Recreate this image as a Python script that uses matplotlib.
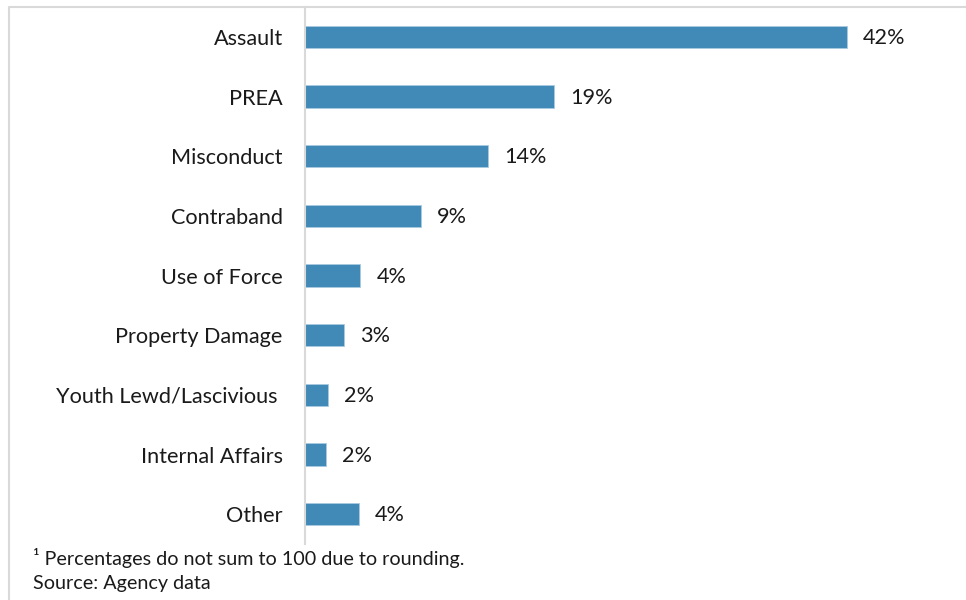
import matplotlib.pyplot as plt
from matplotlib.lines import Line2D

plt.rcParams['font.family'] = ['Lato', 'DejaVu Sans']

# allegation types, top to bottom (source label has a trailing space)
categories = ['Assault', 'PREA', 'Misconduct', 'Contraband', 'Use of Force',
              'Property Damage', 'Youth Lewd/Lascivious ', 'Internal Affairs', 'Other']
# share of allegations (%), bar length
shares = [42.0, 19.3, 14.2, 9.0, 4.3, 3.0, 1.8, 1.6, 4.2]
# rounded labels printed next to the bars
share_labels = ['42%', '19%', '14%', '9%', '4%', '3%', '2%', '2%', '4%']

footnote = '\u00b9 Percentages do not sum to 100 due to rounding.'
source = 'Source: Agency data'

bar_color = '#4189b6'
frame_color = '#d9d9d9'

fig = plt.figure(figsize=(9.66, 6), dpi=100)
ax = fig.add_axes([0.3157, 0.0933, 0.66, 0.895])

pos = list(range(len(categories)))[::-1]
bars = ax.barh(pos, shares, height=0.37, color=bar_color,
               edgecolor='#a9cbe0', linewidth=0.6)

for b, lab in zip(bars, share_labels):
    ax.annotate(lab, (b.get_width(), b.get_y() + b.get_height() / 2 - 0.02),
                xytext=(11.5, 0), textcoords='offset points',
                ha='left', va='center', fontsize=15.6, color='#1a1a1a')

ax.set_yticks(pos)
ax.set_yticklabels(categories, fontsize=15.6, color='#1a1a1a')
ax.tick_params(axis='y', length=0, pad=16)
ax.set_xticks([])
ax.set_xlim(0, 49.4)
ax.set_ylim(-0.5, 8.5)
for s in ['top', 'right', 'bottom']:
    ax.spines[s].set_visible(False)
ax.spines['left'].set_color(frame_color)
ax.spines['left'].set_linewidth(1.5)

# light frame around the chart area (cut by the image edge)
fig.add_artist(Line2D([9 / 966, 9 / 966, 1.0], [0.0, 1 - 7 / 600, 1 - 7 / 600],
                      transform=fig.transFigure, color=frame_color, lw=1.5))

fig.text(33 / 966, 1 - 558 / 600, footnote, fontsize=14.2, color='#1a1a1a',
         va='center', ha='left')
fig.text(33 / 966, 1 - 583 / 600, source, fontsize=14.2, color='#1a1a1a',
         va='center', ha='left')

fig.savefig('out.png', dpi=100)
